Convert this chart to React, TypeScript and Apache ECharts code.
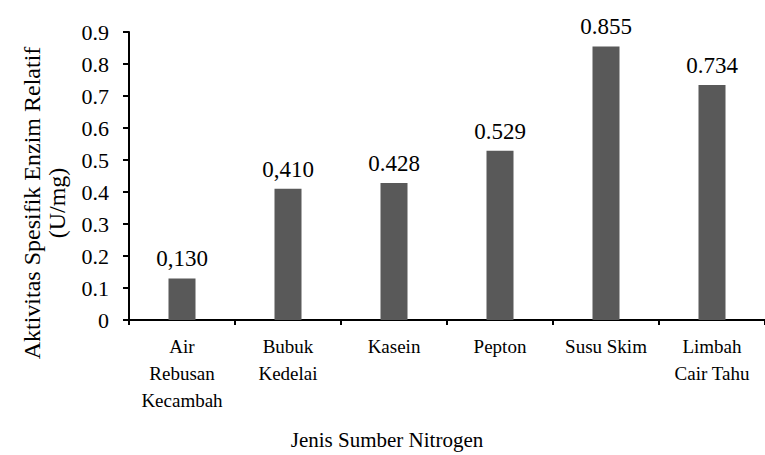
import React, { useEffect, useRef } from "react";
import * as echarts from "echarts";

// Nitrogen sources (wrapped onto lines as they are shown under the axis)
const categories = [
  "Air\nRebusan\nKecambah",
  "Bubuk\nKedelai",
  "Kasein",
  "Pepton",
  "Susu Skim",
  "Limbah\nCair Tahu",
];

// Relative specific enzyme activity (U/mg)
const activity = [0.13, 0.41, 0.428, 0.529, 0.855, 0.734];

// Decimal separator used in each bar's value label
const separators = [",", ",", ".", ".", ".", "."];

const yTicks = [0, 0.1, 0.2, 0.3, 0.4, 0.5, 0.6, 0.7, 0.8, 0.9];

const FONT = "Times New Roman, Liberation Serif, serif";

export default function App() {
  const ref = useRef<HTMLDivElement>(null);

  useEffect(() => {
    if (!ref.current) return;
    const chart = echarts.init(ref.current, undefined, { renderer: "svg" });
    chart.setOption({
      animation: false,
      backgroundColor: "#ffffff",
      textStyle: { fontFamily: FONT, color: "#000" },
      grid: { left: 129, top: 32, width: 642, height: 288 },
      xAxis: {
        type: "category",
        data: categories,
        axisLine: { show: true, lineStyle: { color: "#000", width: 2 } },
        axisTick: { show: true, inside: false, length: 5, lineStyle: { color: "#000", width: 2 } },
        axisLabel: {
          color: "#000",
          fontFamily: FONT,
          fontSize: 19,
          lineHeight: 27,
          margin: 13,
          interval: 0,
        },
      },
      yAxis: {
        type: "value",
        min: yTicks[0],
        max: yTicks[yTicks.length - 1],
        interval: 0.1,
        splitLine: { show: false },
        axisLine: { show: true, lineStyle: { color: "#000", width: 2 } },
        axisTick: { show: true, inside: false, length: 6, lineStyle: { color: "#000", width: 2 } },
        axisLabel: {
          color: "#000",
          fontFamily: FONT,
          fontSize: 22,
          margin: 20,
          formatter: (v: number) => (v === 0 ? "0" : v.toFixed(1)),
        },
      },
      series: [
        {
          type: "bar",
          data: activity,
          barWidth: 27,
          itemStyle: { color: "#595959" },
          label: {
            show: true,
            position: "top",
            distance: 8,
            color: "#000",
            fontFamily: FONT,
            fontSize: 23,
            formatter: (p: any) =>
              (p.value as number).toFixed(3).replace(".", separators[p.dataIndex]),
          },
        },
      ],
      graphic: [
        {
          type: "text",
          x: 44,
          y: 203,
          rotation: Math.PI / 2,
          style: {
            text: "Aktivitas Spesifik Enzim Relatif\n(U/mg)",
            fontFamily: FONT,
            fontSize: 24,
            lineHeight: 25,
            fill: "#000",
            align: "center",
            verticalAlign: "middle",
          },
        },
        {
          type: "text",
          x: 387,
          y: 440,
          style: {
            text: "Jenis Sumber Nitrogen",
            fontFamily: FONT,
            fontSize: 21,
            fill: "#000",
            align: "center",
            verticalAlign: "middle",
          },
        },
      ],
    });
    return () => chart.dispose();
  }, []);

  return (
    <div
      ref={ref}
      style={{ position: "fixed", left: 0, top: 0, width: 765, height: 455, background: "#fff" }}
    />
  );
}
